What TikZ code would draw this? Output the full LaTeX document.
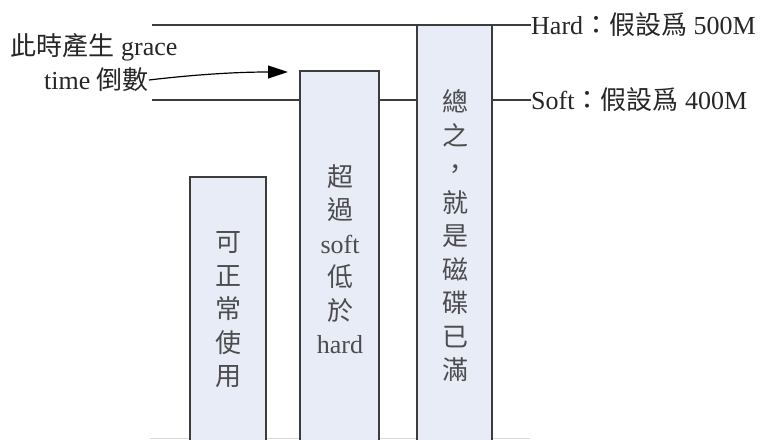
\documentclass[tikz,border=0pt]{standalone}
\usepackage{fontspec}
\setmainfont{Liberation Serif}
\newfontfamily\cjk{Noto Sans CJK TC}
\usepackage{tikz}
\usetikzlibrary{arrows.meta}
\definecolor{barfill}{HTML}{E8ECF6}
\definecolor{barline}{HTML}{3C3C3C}

\begin{document}
\begin{tikzpicture}[x=1pt, y=-1pt,
    bar/.style={draw=barline, fill=barfill, line width=2pt},
    level/.style={draw=barline, line width=1.6pt},
    lbl/.style={font=\fontsize{26}{33.5}\selectfont, text=black!85, inner sep=0pt},
    stack/.style={lbl, align=center, text=black!70},
    zhstack/.style={stack, font=\fontsize{26}{33.5}\selectfont\cjk}]
    \useasboundingbox (0,0) rectangle (765,439);

    \coordinate (H0) at (152,25);
    \coordinate (H1) at (531,25);
    \coordinate (S0) at (152,100);
    \coordinate (S1) at (531,100);
    \coordinate (tip) at (288,72);

    % limits
    \draw[black!15, line width=1pt] (150,438) -- (530,438);
    \draw[level] (H0) -- (H1);
    \draw[level] (S0) -- (S1);

    % bars
    \draw[bar] (190,442) rectangle (266,177);
    \draw[bar] (300,442) rectangle (379,71);
    \draw[bar] (417,442) rectangle (492,25);

    \node[zhstack] (ok) at (228,310) {可\\正\\常\\使\\用};
    \node[stack] (over) at (340,259) {{\cjk 超}\\{\cjk 過}\\soft\\{\cjk 低}\\{\cjk 於}\\hard};
    \node[zhstack] (full) at (455,236) {總\\之\\，\\就\\是\\磁\\碟\\已\\滿};

    \node[lbl, anchor=west] (hard) at (H1) {Hard{\cjk ：假設爲} 500M};
    \node[lbl, anchor=west] (soft) at (S1) {Soft{\cjk ：假設爲} 400M};

    \node[lbl] (grace) at (94,47) {{\cjk 此時產生} grace};
    \node[lbl, anchor=east] (time) at (149,80) {time {\cjk 倒數}};
    \draw[line width=1.2pt, -{Triangle[length=20pt, width=13pt]}]
        (time.east) .. controls (200,74) and (240,72) .. (tip);
\end{tikzpicture}
\end{document}
